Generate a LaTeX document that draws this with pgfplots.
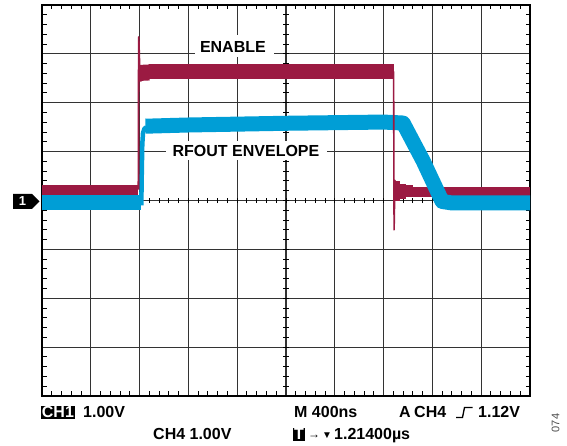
\documentclass[border=0pt]{standalone}
\usepackage{pgfplots}
\pgfplotsset{compat=1.18}
\usepackage{fontspec}
\setmainfont{Liberation Sans}
\definecolor{enab}{RGB}{155,26,66}
\definecolor{rfo}{RGB}{0,158,214}
\begin{document}
\begin{tikzpicture}[x=1pt,y=1pt]
\path[use as bounding box] (0pt,0pt) rectangle (567pt,446pt);
\begin{axis}[
  at={(42pt,50pt)}, anchor=south west,
  scale only axis, width=488pt, height=391pt,
  xmin=0, xmax=10, ymin=-4, ymax=4,
  xtick={0,...,10}, ytick={-4,...,4},
  xticklabels={}, yticklabels={},
  major tick length=0pt,
  minor x tick num=4, minor y tick num=4,
  minor tick length=4.5pt,
  tick align=inside, tick pos=both,
  tick style={black, line width=1pt},
  grid=major,
  major grid style={black!80, line width=1.1pt},
  axis line style={black, line width=2pt},
  clip=true,
]
% centre crosshair ticks
\pgfplotsinvokeforeach{1,...,49}{\draw[black, line width=1pt] (axis cs:{#1*0.2},-0.055) -- (axis cs:{#1*0.2},0.055);}
\pgfplotsinvokeforeach{-19,...,19}{\draw[black, line width=1pt] (axis cs:4.945,{#1*0.2}) -- (axis cs:5.055,{#1*0.2});}

% ENABLE (CH1) noise bands
\addplot[enab, line width=10pt, no markers] coordinates {(0,0.22) (1.975,0.22)};
\addplot[enab, line width=16pt, no markers] coordinates {(2.0,2.61) (2.2,2.62)};
\addplot[enab, line width=15pt, no markers] coordinates {(2.2,2.64) (7.205,2.64)};
\addplot[enab, line width=20pt, no markers] coordinates {(7.225,0.2) (7.33,0.2)};
\addplot[enab, line width=15pt, no markers] coordinates {(7.33,0.19) (7.45,0.19)};
\addplot[enab, line width=12pt, no markers] coordinates {(7.45,0.185) (7.6,0.185)};
\addplot[enab, line width=10pt, no markers] coordinates {(7.6,0.18) (10,0.18)};

% RFOUT ENVELOPE (CH4)
\addplot[rfo, line width=15pt, no markers] coordinates {(0,-0.035) (2.025,-0.035)};
\addplot[rfo, line width=4.5pt, no markers, line join=round] coordinates {(2.035,-0.1) (2.045,0.6) (2.055,1.15) (2.07,1.38) (2.1,1.47) (2.14,1.5)};
\addplot[rfo, line width=15pt, no markers, line join=round] coordinates {(2.12,1.52) (3.0,1.545) (5.0,1.58) (7.0,1.605) (7.4,1.585) (7.81,0.81) (8.2,-0.02) (8.4,-0.05) (10,-0.05)};

% ENABLE edges (thin)
\addplot[enab, line width=1.8pt, no markers, line join=round] coordinates {(1.975,0.22) (1.982,3.345) (1.995,2.9) (2.01,2.45) (2.03,2.45) (2.06,2.6)};
\addplot[enab, line width=1.6pt, no markers, line join=round] coordinates {(7.205,2.64) (7.215,-0.6) (7.232,0.41) (7.26,0.05) (7.3,0.3)};
\end{axis}

% trace labels with white boxes
\node[fill=white, minimum width=79pt, minimum height=22pt, inner sep=0] at (234.5pt,400pt) {};
\node[anchor=base, inner sep=0, font=\fontsize{16}{18}\selectfont\bfseries] at (232.9pt,393.3pt) {ENABLE};
\node[fill=white, minimum width=161pt, minimum height=19pt, inner sep=0] at (246.5pt,295.5pt) {};
\node[anchor=base, inner sep=0, font=\fontsize{16}{18}\selectfont\bfseries] at (246pt,289.3pt) {RFOUT ENVELOPE};

% channel marker
\fill[black] (13pt,252pt) -- (32pt,252pt) -- (39.5pt,244.5pt) -- (32pt,237pt) -- (13pt,237pt) -- cycle;
\node[text=white, inner sep=0, font=\fontsize{13}{14}\selectfont\bfseries] at (22.5pt,244.5pt) {1};

% bottom readouts
\begin{scope}[every node/.style={inner sep=0, font=\fontsize{16}{18}\selectfont\bfseries}]
\node[anchor=base west, fill=black, text=white, inner xsep=1pt, inner ysep=1pt] at (40.7pt,28pt) {CH1};
\node[anchor=base west] at (83pt,28pt) {1.00V};
\node[anchor=base west] at (153pt,6pt) {CH4 1.00V};
\node[anchor=base west] at (294pt,28pt) {M 400ns};
\node[anchor=base west] at (399pt,28pt) {A};
\node[anchor=base west] at (414pt,28pt) {CH4};
\node[anchor=base west] at (478pt,28pt) {1.12V};
\node[anchor=base west, fill=black, text=white, inner xsep=1pt, inner ysep=1pt] at (293pt,6pt) {T};
\node[anchor=base west, font=\fontsize{12}{14}\selectfont\bfseries] at (308pt,7.5pt) {→};
\node[anchor=base west, font=\fontsize{10}{12}\selectfont] at (322pt,7.5pt) {▼};
\node[anchor=base west] at (334pt,6pt) {1.21400µs};
\end{scope}
\draw[line width=1.3pt, line join=miter] (456pt,28.5pt) -- (462.5pt,28.5pt) -- (464.5pt,38.5pt) -- (472.5pt,38.5pt);
\node[rotate=90, inner sep=0, text=black!70, font=\fontsize{11}{12}\selectfont] at (555.5pt,23pt) {074};
\end{tikzpicture}
\end{document}
